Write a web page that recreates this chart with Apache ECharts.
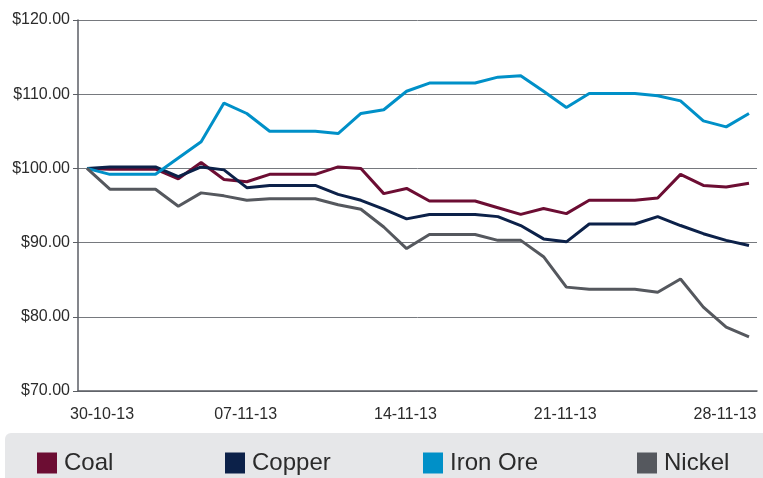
<!DOCTYPE html>
<html lang="en">

<head>
	<meta charset="utf-8">
	<title>Commodity prices</title>
	<script src="https://cdn.jsdelivr.net/npm/echarts@6/dist/echarts.min.js"></script>
	<style type="text/css">
		html, body {margin:0;padding:0;background:#ffffff}
		#chart {width:763px;height:478px}
	</style>
</head>

<body>
	<div id="chart"></div>

	<script>
		// data, index 100 = 30-10-13
		var dates = ['30-10-13', '31-10-13', '01-11-13', '02-11-13', '03-11-13', '04-11-13', '05-11-13', '06-11-13',
			'07-11-13', '08-11-13', '09-11-13', '10-11-13', '11-11-13', '12-11-13', '13-11-13', '14-11-13',
			'15-11-13', '16-11-13', '17-11-13', '18-11-13', '19-11-13', '20-11-13', '21-11-13', '22-11-13',
			'23-11-13', '24-11-13', '25-11-13', '26-11-13', '27-11-13', '28-11-13'];
		var shownDates = ['30-10-13', '07-11-13', '14-11-13', '21-11-13', '28-11-13'];

		var coal = [100, 99.9, 99.9, 99.9, 98.6, 100.8, 98.5, 98.2, 99.2, 99.2, 99.2, 100.2, 100.0, 96.6, 97.3,
			95.6, 95.6, 95.6, 94.7, 93.8, 94.6, 93.9, 95.7, 95.7, 95.7, 96.0, 99.2, 97.7, 97.5, 98.0];
		var copper = [100, 100.2, 100.2, 100.2, 98.9, 100.2, 99.8, 97.4, 97.7, 97.7, 97.7, 96.5, 95.7, 94.5, 93.2,
			93.8, 93.8, 93.8, 93.5, 92.3, 90.5, 90.1, 92.5, 92.5, 92.5, 93.5, 92.3, 91.2, 90.3, 89.6];
		var ironOre = [100, 99.2, 99.2, 99.2, 101.4, 103.6, 108.8, 107.4, 105.0, 105.0, 105.0, 104.7, 107.4, 107.9, 110.4,
			111.5, 111.5, 111.5, 112.3, 112.5, 110.4, 108.2, 110.1, 110.1, 110.1, 109.8, 109.1, 106.4, 105.6, 107.4];
		var nickel = [100, 97.2, 97.2, 97.2, 94.9, 96.7, 96.3, 95.7, 95.9, 95.9, 95.9, 95.1, 94.5, 92.1, 89.2,
			91.1, 91.1, 91.1, 90.3, 90.3, 88.1, 84.0, 83.7, 83.7, 83.7, 83.3, 85.1, 81.3, 78.6, 77.3];

		var names = ['Coal', 'Copper', 'Iron Ore', 'Nickel'];
		var colors = ['#6c0d33', '#0c2149', '#0090c8', '#55585e'];
		var values = [coal, copper, ironOre, nickel];
		var legendLeft = [37, 225, 423, 637];

		var font = 'Liberation Sans, Arial, sans-serif';
		var myChart = echarts.init(document.getElementById('chart'));

		var series = [];
		var legends = [];
		for (var i = 0; i < names.length; i++) {
			series.push({
				name: names[i],
				type: 'line',
				xAxisIndex: 1,
				yAxisIndex: 1,
				showSymbol: false,
				symbol: 'none',
				lineStyle: {color: colors[i], width: 3},
				itemStyle: {color: colors[i]},
				data: values[i]
			});
			legends.push({
				data: [names[i]],
				left: legendLeft[i],
				top: 451,
				padding: 0,
				icon: 'rect',
				itemWidth: 20,
				itemHeight: 21,
				selectedMode: false,
				textStyle: {fontSize: 24, color: '#2b2b2b', fontFamily: font, padding: [0, 0, 0, 2]}
			});
		}

		var option = {
			animation: false,
			backgroundColor: '#ffffff',
			graphic: [{
				type: 'rect',
				z: 0,
				shape: {x: 5, y: 433, width: 800, height: 60, r: 6},
				style: {fill: '#e6e7e9'}
			}],
			legend: legends,
			// grid 0 holds the frame and gridlines, grid 1 the lines
			grid: [
				{left: 78, right: 6, top: 20, bottom: 87},
				{left: 87, right: 14, top: 20, bottom: 87}
			],
			xAxis: [
				{
					gridIndex: 0,
					type: 'value',
					min: 0,
					max: 1,
					axisLine: {show: true, lineStyle: {color: '#5b5e64', width: 1.5}},
					axisTick: {show: false},
					axisLabel: {show: false},
					splitLine: {show: false}
				},
				{
					gridIndex: 1,
					type: 'category',
					data: dates,
					boundaryGap: false,
					axisLine: {show: false},
					axisTick: {show: false},
					splitLine: {show: false},
					axisLabel: {
						interval: function (index, value) {
							return shownDates.indexOf(value) >= 0;
						},
						margin: 16,
						formatter: function (value, index) {
							return index === 0 ? '{first|' + value + '}' : '{rest|' + value + '}';
						},
						rich: {
							first: {fontSize: 16, color: '#2b2b2b', fontFamily: font, padding: [0, 0, 0, 30]},
							rest: {fontSize: 16, color: '#2b2b2b', fontFamily: font, padding: [0, 48, 0, 0]}
						}
					}
				}
			],
			yAxis: [
				{
					gridIndex: 0,
					type: 'value',
					min: 70,
					max: 120,
					interval: 10,
					axisLine: {show: true, lineStyle: {color: '#5b5e64', width: 1.5}},
					axisTick: {show: true, length: 5, lineStyle: {color: '#5b5e64'}},
					axisLabel: {
						margin: 8,
						fontSize: 16,
						color: '#2b2b2b',
						fontFamily: font,
						formatter: function (v) {
							return '$' + v.toFixed(2);
						}
					},
					splitLine: {show: true, lineStyle: {color: '#76797e', width: 1}}
				},
				{
					gridIndex: 1,
					type: 'value',
					min: 70,
					max: 120,
					show: false
				}
			],
			series: series
		};

		myChart.setOption(option);
	</script>
</body>

</html>
